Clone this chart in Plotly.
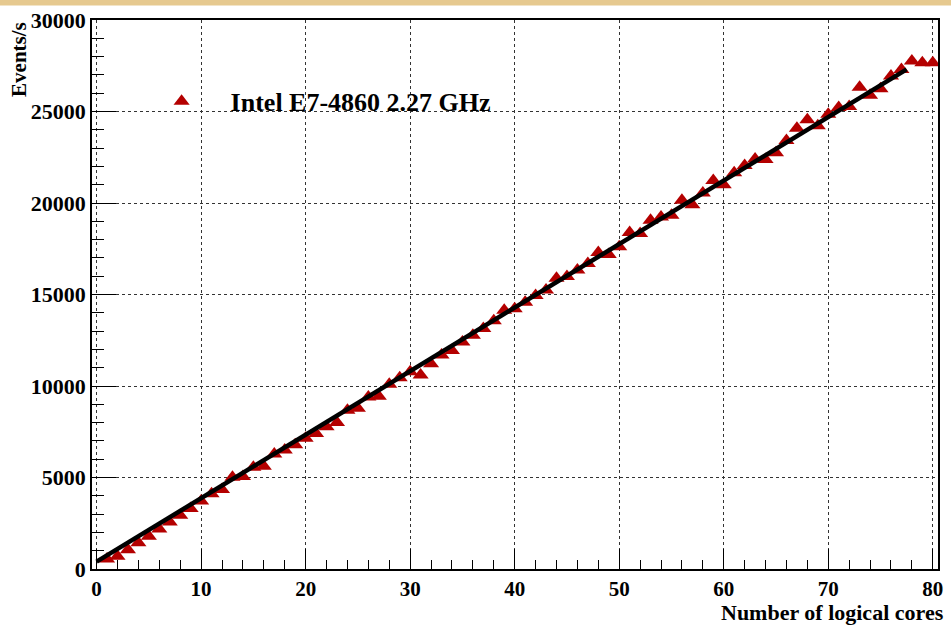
import plotly.graph_objects as go

cores = list(range(1, 81))
events = [
    540, 700, 1050, 1430, 1790, 2190, 2570, 2935, 3300, 3710,
    4110, 4350, 5020, 5050, 5560, 5615, 6290, 6505, 6790, 7150,
    7410, 7770, 8010, 8680, 8790, 9400, 9440, 10090, 10450, 10780,
    10600, 11210, 11690, 11940, 12410, 12770, 13140, 13570, 14140, 14220,
    14580, 14950, 15250, 15890, 15980, 16340, 16700, 17300, 17190, 17610,
    18390, 18330, 19060, 19240, 19330, 20150, 19910, 20550, 21230, 21000,
    21650, 22050, 22410, 22380, 22740, 23410, 24080, 24550, 24220, 24850,
    25220, 25270, 26330, 25890, 26250, 26940, 27300, 27760, 27660, 27660,
]
fit_x = [0, 77.5]
fit_y = [400, 27300]

series_name = "Intel E7-4860 2.27 GHz"
x_title = "Number of logical cores"
y_title = "Events/s"

FONT = "Liberation Serif"
RED = "#b40000"

fig = go.Figure()
fig.add_trace(go.Scatter(
    x=cores, y=events, mode="markers", name=series_name,
    marker=dict(symbol="triangle-up", size=14, color=RED, line=dict(width=0)),
))
fig.add_trace(go.Scatter(
    x=fit_x, y=fit_y, mode="lines", showlegend=False,
    line=dict(color="black", width=4.5),
))

grid = dict(showgrid=True, gridcolor="#333333", gridwidth=1, griddash="3px,3px")
fig.update_xaxes(
    range=[-0.44, 80.5], tick0=0, dtick=10, ticks="inside", ticklen=20,
    tickcolor="black", tickwidth=1, showline=True, linecolor="black",
    linewidth=1.5, mirror=True, zeroline=False,
    tickfont=dict(family=FONT, size=21, color="black", weight="bold"),
    minor=dict(dtick=2, ticks="inside", ticklen=9, tickcolor="black", showgrid=False),
    **grid,
)
fig.update_yaxes(
    range=[0, 30000], tick0=0, dtick=5000, ticks="inside", ticklen=24,
    tickcolor="black", tickwidth=1, showline=True, linecolor="black",
    linewidth=1.5, mirror=True, zeroline=False, tickformat="d",
    tickfont=dict(family=FONT, size=22, color="black", weight="bold"),
    minor=dict(dtick=1000, ticks="inside", ticklen=12, tickcolor="black", showgrid=False),
    **grid,
)

fig.add_annotation(
    text=x_title, xref="paper", yref="paper", x=1.0095, y=-0.0535,
    xanchor="right", yanchor="top", showarrow=False,
    font=dict(family=FONT, size=22, color="black", weight="bold"),
)
fig.add_annotation(
    text=y_title, xref="paper", yref="paper", x=-0.087, y=1.0,
    xanchor="center", yanchor="top", textangle=-90, showarrow=False,
    font=dict(family=FONT, size=21, color="black", weight="bold"),
)

# beige strip across the top of the slide
fig.add_shape(type="rect", xref="paper", yref="paper", x0=-0.2, x1=1.1,
              y0=1 + 14.5 / 551, y1=1 + 20 / 551, fillcolor="#e6c98f",
              line=dict(width=0), layer="below")

fig.update_layout(
    width=951, height=627,
    margin=dict(l=92, r=8, t=18, b=58),
    paper_bgcolor="white", plot_bgcolor="white",
    showlegend=True,
    legend=dict(x=0.048, y=0.852, xanchor="left", yanchor="middle",
                bgcolor="rgba(0,0,0,0)", itemwidth=88,
                font=dict(family=FONT, size=26, color="black", weight="bold")),
)

fig.write_html("out.html")
